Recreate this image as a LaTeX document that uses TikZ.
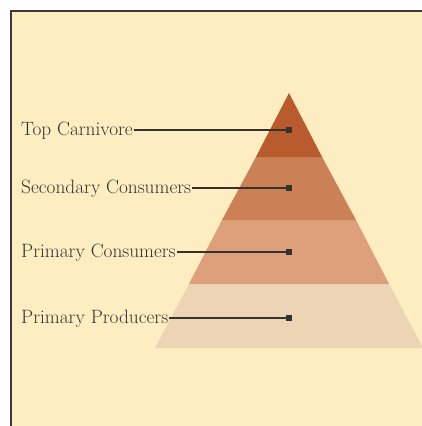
\documentclass[tikz,border=0pt]{standalone}
\usepackage{fontspec}
\definecolor{bgc}{HTML}{FEEDC0}
\definecolor{bordc}{HTML}{3A3A3A}
\definecolor{lvlA}{HTML}{B95A2F}
\definecolor{lvlB}{HTML}{CC8055}
\definecolor{lvlC}{HTML}{DDA07A}
\definecolor{lvlD}{HTML}{EDD4B5}
\definecolor{inkc}{HTML}{333333}
\begin{document}
\begin{tikzpicture}[x=1pt,y=-1pt,
  lbl/.style={anchor=base west,inner sep=0pt,text=inkc,font=\fontsize{19.3}{23}\selectfont},
  sq/.style={fill=inkc,minimum size=6pt,inner sep=0pt},
  leader/.style={draw=inkc,line width=1.2pt}]
\useasboundingbox (0,0) rectangle (422,426);
\fill[bgc] (11,11) rectangle (422,426);
\draw[bordc,line width=2.2pt] (11,426) -- (11,11) -- (422,11);
% pyramid bands: apex (289,93), base y=348, half-width 134 at base
\fill[lvlD] (155,348) -- (423,348) -- (389.1,284) -- (188.9,284) -- cycle;
\fill[lvlC] (188.9,284) -- (389.1,284) -- (356,220) -- (222,220) -- cycle;
\fill[lvlB] (222,220) -- (356,220) -- (322.1,157) -- (255.9,157) -- cycle;
\fill[lvlA] (255.9,157) -- (322.1,157) -- (289,93) -- cycle;
\node[lbl] (tc) at (21,135) {Top Carnivore};
\node[lbl] (sc) at (21,193) {Secondary Consumers};
\node[lbl] (pc) at (21,257) {Primary Consumers};
\node[lbl] (pp) at (21,323) {Primary Producers};
\node[sq] (mtc) at (289,130) {};
\node[sq] (msc) at (289,188) {};
\node[sq] (mpc) at (289,252) {};
\node[sq] (mpp) at (289,318) {};
\draw[leader] (tc.east |- mtc) ++(1,0) coordinate (ta) -- (mtc.center);
\draw[leader] (sc.east |- msc) ++(1,0) coordinate (sa) -- (msc.center);
\draw[leader] (pc.east |- mpc) ++(1,0) coordinate (pa) -- (mpc.center);
\draw[leader] (pp.east |- mpp) ++(1,0) coordinate (qa) -- (mpp.center);
\end{tikzpicture}
\end{document}
